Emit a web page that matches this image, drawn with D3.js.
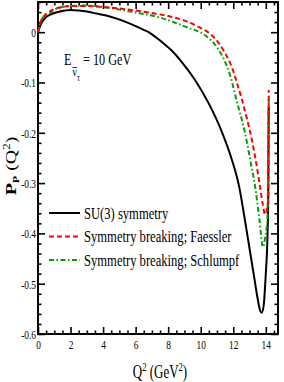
<!DOCTYPE html>
<html><head><meta charset="utf-8">
<script src="https://cdn.jsdelivr.net/npm/d3@7"></script>
<style>
html,body{margin:0;padding:0;background:#fff;}
svg{display:block;}
text{font-family:"Liberation Serif","Times New Roman",serif;fill:#000;}
</style></head>
<body>
<svg id="c" width="284" height="382"></svg>
<script>
// ---- data ----
const q2SU3 = [0,0.1,0.25,0.5,0.75,1.0,1.35,2.0,2.5,3.0,3.6,4.2,4.84,5.5,6.0,6.4,6.8,7.2,7.6,8.2,8.85,9.65,10.5,11.3,11.9,12.35,12.7,13.0,13.3,13.5,13.65,13.75,13.88,14.0,14.1,14.15,14.18];
const pSU3  = [0,0.01,0.02,0.03,0.035,0.038,0.041,0.044,0.043,0.041,0.037,0.033,0.027,0.019,0.012,0.006,0.0,-0.009,-0.019,-0.036,-0.06,-0.095,-0.142,-0.198,-0.252,-0.305,-0.37,-0.43,-0.49,-0.53,-0.553,-0.558,-0.54,-0.48,-0.41,-0.33,-0.15];

const q2Faessler = [0,0.1,0.25,0.5,0.75,1.0,1.5,2.0,3.0,4.0,5.0,6.0,7.0,8.0,9.0,9.9,10.6,11.12,11.5,11.92,12.2,12.54,12.85,13.15,13.4,13.65,13.82,13.95,14.05,14.15,14.18];
const pFaessler  = [0,0.013,0.026,0.036,0.042,0.046,0.05,0.052,0.052,0.05,0.047,0.043,0.038,0.032,0.023,0.01,-0.004,-0.022,-0.042,-0.07,-0.098,-0.135,-0.173,-0.215,-0.258,-0.308,-0.343,-0.362,-0.355,-0.33,-0.115];

const q2Schlumpf = [0,0.1,0.25,0.5,0.75,1.0,1.35,2.0,3.0,4.0,5.0,6.0,7.0,7.6,8.5,9.3,9.96,10.5,10.98,11.4,11.8,12.2,12.72,13.05,13.36,13.6,13.83,13.95,14.1,14.18];
const pSchlumpf  = [0,0.014,0.027,0.034,0.038,0.044,0.049,0.052,0.053,0.05,0.045,0.039,0.033,0.028,0.018,0.008,0.0,-0.012,-0.029,-0.052,-0.085,-0.135,-0.2,-0.255,-0.31,-0.37,-0.427,-0.41,-0.37,-0.13];

const xTickValues = [0,2,4,6,8,10,12,14];
const xTickLabels = ["0","2","4","6","8","10","12","14"];
const yTickValues = [-0.6,-0.5,-0.4,-0.3,-0.2,-0.1,0];
const yTickLabels = ["-0.6","-0.5","-0.4","-0.3","-0.2","-0.1","0"];
const legendLabels = ["SU(3) symmetry","Symmetry breaking; Faessler","Symmetry breaking; Schlumpf"];

// ---- layout ----
const L = 38, R = 278, T = 2, B = 334;
const CX = 0.72; // horizontal text compression
const svg = d3.select("#c");
const x = d3.scaleLinear().domain([0, 14.75]).range([L, R]);
const y = d3.scaleLinear().domain([-0.6, 0.06]).range([B, T]);

const xMinor = d3.range(0, 14.75, 0.5).filter(v => v % 2 !== 0);
const yMinor = d3.range(-60, 7, 2).map(v => v / 100).filter(v => Math.abs(Math.round(v * 100)) % 10 !== 0);

function squash(sel) {
  sel.selectAll("text").each(function () {
    const t = d3.select(this);
    const tx = +t.attr("x") || 0, ty = +t.attr("y") || 0;
    t.attr("x", 0).attr("y", 0).attr("transform", `translate(${tx},${ty}) scale(${CX},1)`);
  });
}
function styleAxis(g) {
  g.select(".domain").remove();
  g.selectAll(".tick line").attr("stroke", "#000").attr("stroke-width", 1.6);
}

// bottom
const gB = svg.append("g").attr("transform", `translate(0,${B})`)
  .call(d3.axisBottom(x).tickValues(xTickValues).tickSize(-7).tickPadding(0)
    .tickFormat((d, i) => xTickLabels[i]));
gB.selectAll("text").attr("dy", null).attr("y", 14.5).style("font-size", "13px");
squash(gB); styleAxis(gB);
const gBm = svg.append("g").attr("transform", `translate(0,${B})`)
  .call(d3.axisBottom(x).tickValues(xMinor).tickSize(-3.5).tickFormat(""));
styleAxis(gBm);
// top
const gT = svg.append("g").attr("transform", `translate(0,${T})`)
  .call(d3.axisTop(x).tickValues(xTickValues).tickSize(-7).tickFormat(""));
styleAxis(gT);
const gTm = svg.append("g").attr("transform", `translate(0,${T})`)
  .call(d3.axisTop(x).tickValues(xMinor).tickSize(-3.5).tickFormat(""));
styleAxis(gTm);
// left
const gL = svg.append("g").attr("transform", `translate(${L},0)`)
  .call(d3.axisLeft(y).tickValues(yTickValues).tickSize(-7).tickPadding(2)
    .tickFormat((d, i) => yTickLabels[i]));
gL.selectAll("text").style("font-size", "13px");
squash(gL); styleAxis(gL);
gL.selectAll("text").attr("dy", "0.33em");
const gLm = svg.append("g").attr("transform", `translate(${L},0)`)
  .call(d3.axisLeft(y).tickValues(yMinor).tickSize(-3.5).tickFormat(""));
styleAxis(gLm);
// right
const gR = svg.append("g").attr("transform", `translate(${R},0)`)
  .call(d3.axisRight(y).tickValues(yTickValues).tickSize(-7).tickFormat(""));
styleAxis(gR);
const gRm = svg.append("g").attr("transform", `translate(${R},0)`)
  .call(d3.axisRight(y).tickValues(yMinor).tickSize(-3.5).tickFormat(""));
styleAxis(gRm);

// frame
svg.append("rect").attr("x", L).attr("y", T).attr("width", R - L).attr("height", B - T)
  .attr("fill", "none").attr("stroke", "#000").attr("stroke-width", 2);

// ---- curves ----
const series = [
  {q: q2SU3, p: pSU3, color: "#000000", dash: null, w: 2},
  {q: q2Faessler, p: pFaessler, color: "#ff0000", dash: "5,3", w: 2},
  {q: q2Schlumpf, p: pSchlumpf, color: "#00a000", dash: "5,2.5,1.5,2.5", w: 2}
];
const line = d3.line().x(d => x(d[0])).y(d => y(d[1])).curve(d3.curveMonotoneX);
const plot = svg.append("g");
[series[0], series[2], series[1]].forEach(s => {
  plot.append("path").datum(s.q.map((v, i) => [v, s.p[i]]))
    .attr("d", line).attr("fill", "none").attr("stroke", s.color)
    .attr("stroke-width", s.w).attr("stroke-dasharray", s.dash);
});

// ---- legend ----
const legY = [213, 236.5, 260];
series.forEach((s, i) => {
  svg.append("line").attr("x1", 49).attr("x2", 80).attr("y1", legY[i]).attr("y2", legY[i])
    .attr("stroke", s.color).attr("stroke-width", 2).attr("stroke-dasharray", s.dash);
  svg.append("text").attr("transform", `translate(84,${legY[i] + 5.5}) scale(${CX},1)`)
    .style("font-size", "17.5px").text(legendLabels[i]);
});

// ---- annotation ----
svg.append("text").attr("transform", `translate(64,65) scale(${CX},1)`).style("font-size", "17px").text("E");
svg.append("text").attr("transform", `translate(72.5,76) scale(${CX},1)`).style("font-size", "13px").text("ν");
svg.append("line").attr("x1", 72.5).attr("x2", 77).attr("y1", 67.5).attr("y2", 67.5).attr("stroke", "#000").attr("stroke-width", 0.8);
svg.append("text").attr("transform", `translate(77,80.5) scale(${CX},1)`).style("font-size", "10px").text("τ");
svg.append("text").attr("transform", `translate(83,65) scale(${CX},1)`).style("font-size", "17px").text("= 10 GeV");

// ---- axis titles ----
const xt = svg.append("text").attr("transform", `translate(160,378) scale(${CX},1)`)
  .attr("text-anchor", "middle").style("font-size", "18px");
xt.append("tspan").text("Q");
xt.append("tspan").attr("dy", -7).style("font-size", "12px").text("2");
xt.append("tspan").attr("dy", 7).text(" (GeV");
xt.append("tspan").attr("dy", -7).style("font-size", "12px").text("2");
xt.append("tspan").attr("dy", 7).text(")");

const yt = svg.append("text").attr("transform", `translate(16,166) scale(${CX},1) rotate(-90)`)
  .attr("text-anchor", "middle").style("font-size", "20px");
yt.append("tspan").style("font-weight", "bold").text("P");
yt.append("tspan").attr("dy", 4).style("font-size", "12px").style("font-weight", "bold").text("P");
yt.append("tspan").attr("dy", -4).text(" (Q");
yt.append("tspan").attr("dy", -8).style("font-size", "13px").text("2");
yt.append("tspan").attr("dy", 8).text(")");
</script>
</body></html>
